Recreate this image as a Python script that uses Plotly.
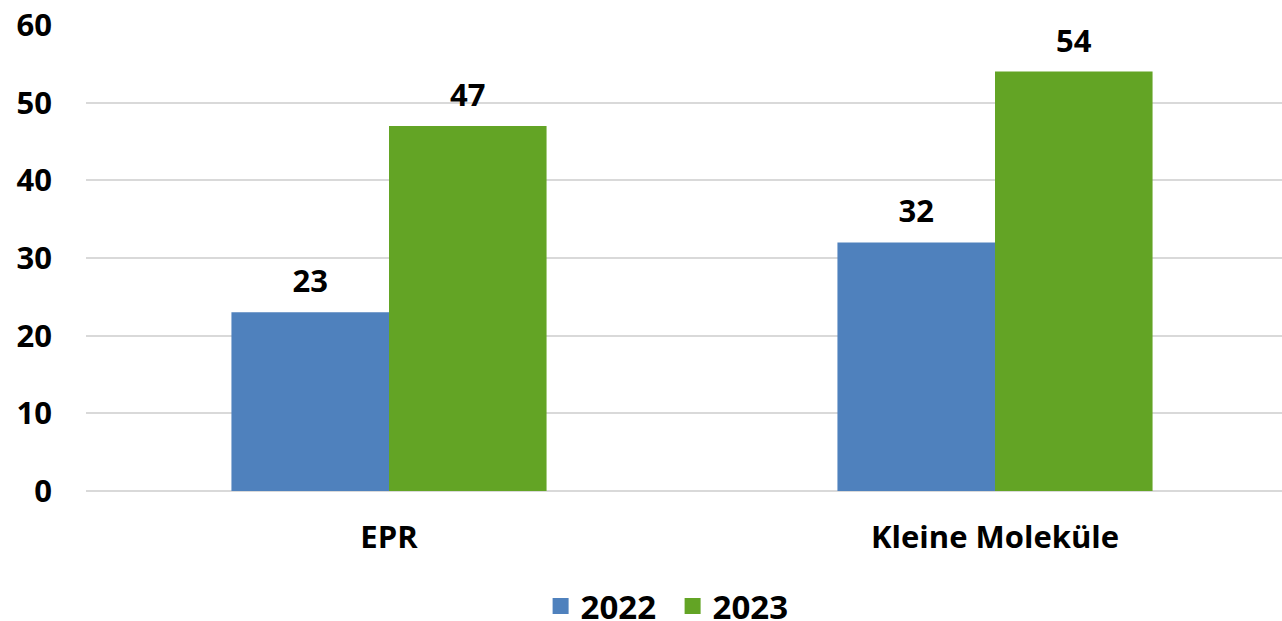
import plotly.graph_objects as go

categories = ["EPR", "Kleine Moleküle"]
series_names = ["2022", "2023"]
values_2022 = [23, 32]
values_2023 = [47, 54]
y_ticks = [0, 10, 20, 30, 40, 50, 60]

colors = ["#4F81BD", "#63A425"]
FONT = "'Open Sans', Lato, Arial, sans-serif"
FS = 31

fig = go.Figure()
series = [values_2022, values_2023]
for i, (name, vals, col) in enumerate(zip(series_names, series, colors)):
    fig.add_trace(go.Bar(
        x=categories, y=vals, name=name, marker=dict(color=col, line=dict(width=0)),
        offsetgroup=str(i), showlegend=False,
    ))
# value labels above bars, aligned with the grouped bars
for i, (name, vals) in enumerate(zip(series_names, series)):
    fig.add_trace(go.Scatter(
        x=categories, y=vals, mode="markers+text", text=[str(v) for v in vals],
        textposition="top center", offsetgroup=str(i), showlegend=False,
        marker=dict(size=18, opacity=0), cliponaxis=False, hoverinfo="skip",
        textfont=dict(size=FS, color="black", family=FONT, weight="bold"),
    ))
# legend entries with larger square swatches
for name, col in zip(series_names, colors):
    fig.add_trace(go.Scatter(
        x=[None], y=[None], mode="markers", name=name,
        marker=dict(symbol="square", size=21, color=col),
    ))

fig.update_layout(
    width=1298, height=621,
    margin=dict(l=86, r=0, t=25, b=130, autoexpand=False),
    paper_bgcolor="white", plot_bgcolor="white",
    barmode="group", bargap=0.48, bargroupgap=0,
    scattermode="group", scattergap=0.48,
    font=dict(family=FONT, size=FS, color="black", weight="bold"),
    legend=dict(orientation="h", x=0.484, xanchor="center", y=-0.247, yanchor="middle",
                font=dict(size=33, weight="bold"), itemwidth=30, traceorder="normal",
                itemsizing="trace", entrywidth=87, entrywidthmode="pixels"),
    xaxis=dict(showgrid=False, showline=False, ticks="", automargin=False,
               tickfont=dict(size=FS, weight="bold"), ticklabelstandoff=25),
    yaxis=dict(range=[0, 60], tickvals=y_ticks, showgrid=True, gridcolor="#D9D9D9", gridwidth=2,
               zeroline=True, zerolinecolor="#D9D9D9", zerolinewidth=2, automargin=False,
               ticks="", tickfont=dict(size=FS, weight="bold"), ticklabelstandoff=33),
)

fig.write_html("out.html", config={"displayModeBar": False},
               post_script="document.body.style.margin='0';document.body.style.overflow='hidden';")
